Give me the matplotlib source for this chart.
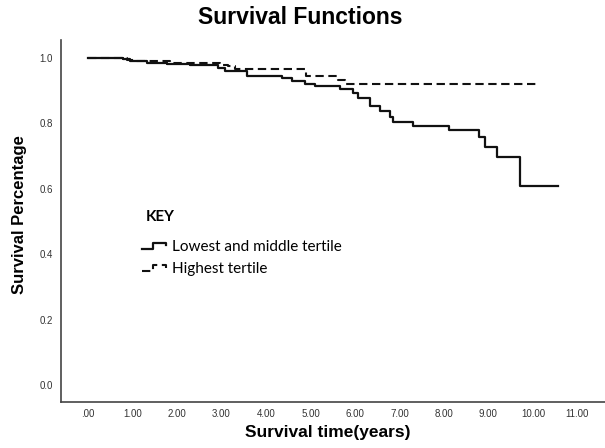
#!/usr/bin/env python3

'''Kaplan-Meier survival functions by tertile
'''

import matplotlib
matplotlib.use('Agg')
import matplotlib.pyplot as plt
from matplotlib.lines import Line2D
from matplotlib.legend_handler import HandlerLine2D
from matplotlib.ticker import FuncFormatter

# step times (years) and survival after each step, last point = end of follow-up
low_mid_time = [0.0, 0.79, 0.94, 1.32, 1.77, 2.29, 2.93, 3.08, 3.57, 4.35, 4.58,
                4.88, 5.10, 5.66, 5.96, 6.07, 6.34, 6.56, 6.79, 6.85, 7.30,
                8.11, 8.79, 8.92, 9.19, 9.71, 10.56]
low_mid_surv = [1.0, 0.996, 0.992, 0.986, 0.982, 0.978, 0.969, 0.959, 0.946, 0.938, 0.931,
                0.921, 0.913, 0.905, 0.892, 0.877, 0.852, 0.839, 0.821, 0.805, 0.793,
                0.780, 0.758, 0.729, 0.697, 0.609, 0.609]

high_time = [0.0, 0.87, 1.06, 1.84, 2.97, 3.15, 3.30, 4.91, 5.62, 5.78, 10.13]
high_surv = [1.0, 0.995, 0.990, 0.985, 0.980, 0.975, 0.965, 0.946, 0.934, 0.921, 0.921]

labels = ['Lowest and middle tertile', 'Highest tertile']
xticks = list(range(0, 12))
yticks = [0.0, 0.2, 0.4, 0.6, 0.8, 1.0]


class StepHandler(HandlerLine2D):
    # draws a little step glyph in the legend like SPSS does
    def create_artists(self, legend, orig_handle, xdescent, ydescent,
                       width, height, fontsize, trans):
        fx = [0.0, 0.42, 0.42, 0.92, 0.92]
        fy = [0.15, 0.15, 0.75, 0.75, 0.5]
        xs = [f * width - xdescent for f in fx]
        ys = [f * height - ydescent for f in fy]
        line = Line2D(xs, ys)
        self.update_prop(line, orig_handle, legend)
        line.set_transform(trans)
        return [line]


fig = plt.figure(figsize=(6.05, 4.48), dpi=100)
ax = fig.add_axes([61 / 605, 1 - 402 / 448, 1 - 61 / 605, (402 - 40) / 448])

ax.step(low_mid_time, low_mid_surv, where='post', color='#111111', lw=1.6,
        label=labels[0])
ax.step(high_time, high_surv, where='post', color='#111111', lw=1.5,
        linestyle=(0, (4, 2.2)), label=labels[1])

ax.set_xlim(-0.607, 11.62)
ax.set_ylim(-0.052, 1.055)
ax.set_xticks(xticks)
ax.set_yticks(yticks)
ax.xaxis.set_major_formatter(FuncFormatter(lambda v, p: f'{v:.2f}'.lstrip('0') if v < 1 else f'{v:.2f}'))
ax.yaxis.set_major_formatter(FuncFormatter(lambda v, p: f'{v:.1f}'))
ax.tick_params(length=0, labelsize=7, colors='#333333')
ax.tick_params(axis='x', pad=5)
ax.tick_params(axis='y', pad=6)
for lab in ax.get_xticklabels() + ax.get_yticklabels():
    lab.set_family('Liberation Sans')

ax.spines['top'].set_visible(False)
ax.spines['right'].set_visible(False)
ax.spines['left'].set_color('#444444')
ax.spines['bottom'].set_color('#444444')
ax.spines['left'].set_linewidth(1.2)
ax.spines['bottom'].set_linewidth(1.2)

fig.text(300 / 605, 1 - 17 / 448, 'Survival Functions', ha='center', va='center',
         fontsize=16.5, fontweight='bold', family='Liberation Sans')
fig.text(328 / 605, 1 - 432 / 448, 'Survival time(years)', ha='center', va='center',
         fontsize=12.5, fontweight='bold', family='Liberation Sans')
fig.text(20 / 605, 1 - 215 / 448, 'Survival Percentage', ha='center', va='center',
         rotation=90, fontsize=12, fontweight='bold', family='Liberation Sans')

# key
fig.text(146 / 605, 1 - 217 / 448, 'KEY', ha='left', va='center',
         fontsize=11, fontweight='bold', family='Lato')
leg = ax.legend(handler_map={Line2D: StepHandler()}, loc='upper left',
                bbox_to_anchor=(134 / 605, 1 - 232 / 448),
                bbox_transform=fig.transFigure, frameon=False, borderpad=0,
                handlelength=1.7, handletextpad=0.3, labelspacing=0.55,
                prop={'family': 'Lato', 'size': 11})

fig.savefig('out.png', dpi=100)
